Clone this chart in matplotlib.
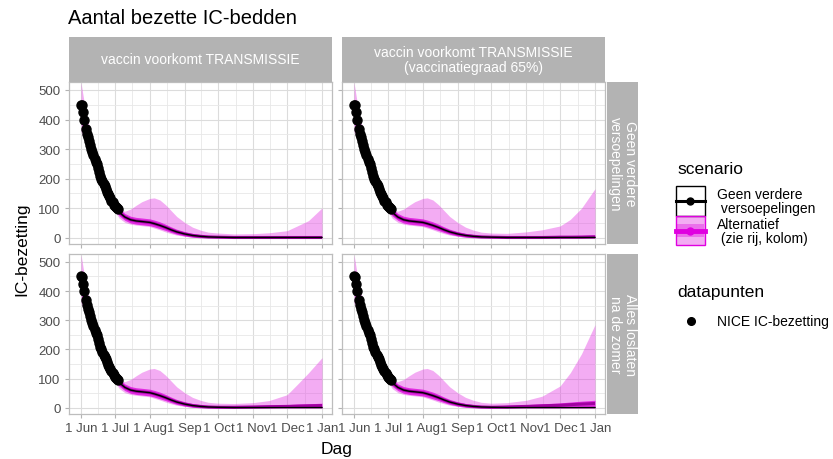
import numpy as np
import matplotlib
matplotlib.use("Agg")
import matplotlib.pyplot as plt
import matplotlib.dates as mdates
from matplotlib.patches import Rectangle
from matplotlib.ticker import FixedLocator, FuncFormatter

plt.rcParams['font.family'] = ['Liberation Sans', 'DejaVu Sans']

# ---------------- data ----------------
model_dates = np.array(['2021-06-01', '2021-06-05', '2021-06-10', '2021-06-15', '2021-06-20', '2021-06-25',
                        '2021-07-01', '2021-07-05', '2021-07-10', '2021-07-15', '2021-07-20', '2021-07-25',
                        '2021-08-01', '2021-08-05', '2021-08-10', '2021-08-15', '2021-08-20', '2021-08-25',
                        '2021-09-01', '2021-09-08', '2021-09-15', '2021-09-22', '2021-10-01', '2021-10-15',
                        '2021-11-01', '2021-11-15', '2021-12-01', '2021-12-10', '2021-12-20', '2022-01-01'],
                       dtype='datetime64[D]')

baseline_median = [430, 365, 300, 245, 195, 155, 108, 86, 70, 61, 57, 55, 52, 48, 42, 35, 27, 20,
                   13, 8, 5, 3, 2, 1, 1, 1, 1, 1, 1, 1]

# first 23 values common to all panels, tails (Oct15..Jan1) per panel
alt_median_head = [430, 365, 300, 245, 195, 155, 108, 86, 70, 61, 57, 55, 52, 48, 42, 35, 27, 20,
                   13, 8, 5, 3, 2]
alt_median_tail_tl = [1, 1, 1, 1, 1, 1, 1]
alt_median_tail_tr = [1, 1, 1, 2, 2, 2, 3]
alt_median_tail_bl = [2, 3, 4, 5, 6, 7, 8]
alt_median_tail_br = [3, 5, 7, 9, 11, 13, 15]

inner_hi_head = [470, 400, 330, 270, 215, 172, 122, 99, 82, 73, 69, 67, 64, 60, 54, 46, 37, 29,
                 21, 15, 11, 8, 6]
inner_hi_tail_tl = [6, 6, 6, 6, 6, 6, 6]
inner_hi_tail_tr = [6, 6, 7, 8, 8, 9, 10]
inner_hi_tail_bl = [7, 8, 10, 11, 13, 14, 16]
inner_hi_tail_br = [9, 11, 14, 17, 20, 23, 26]
inner_lo = [395, 335, 273, 222, 176, 139, 95, 74, 59, 50, 46, 44, 41, 37, 31, 25, 18, 12,
            6, 2, 0, 0, 0, 0, 0, 0, 0, 0, 0, 0]

outer_hi_head = [525, 430, 350, 282, 218, 168, 112, 94, 90, 97, 110, 122, 133, 135, 128, 112, 92, 72,
                 52, 36, 26, 19, 16]
outer_hi_tail_tl = [13, 14, 17, 24, 40, 58, 101]
outer_hi_tail_tr = [15, 20, 27, 40, 62, 100, 166]
outer_hi_tail_bl = [15, 18, 25, 45, 80, 120, 172]
outer_hi_tail_br = [18, 26, 40, 75, 120, 185, 285]
outer_lo = [360, 318, 262, 212, 168, 128, 88, 66, 52, 46, 43, 41, 38, 33, 27, 20, 14, 9,
            5, 2, 1, 0, 0, 0, 0, 0, 0, 0, 0, 0]

obs_dates = np.arange('2021-06-01', '2021-07-05', dtype='datetime64[D]')
obs_values = [450, 448, 425, 400, 368, 352, 340, 328, 314, 302,
              290, 280, 268, 258, 248, 236, 222, 210, 200, 192,
              182, 174, 166, 156, 148, 140, 134, 126, 120, 112,
              107, 103, 100, 96]

col_labels = ['vaccin voorkomt TRANSMISSIE', 'vaccin voorkomt TRANSMISSIE\n(vaccinatiegraad 65%)']
row_labels = ['Geen verdere\nversoepelingen', 'Alles loslaten\nna de zomer']
month_ticks = np.array(['2021-06-01', '2021-07-01', '2021-08-01', '2021-09-01', '2021-10-01',
                        '2021-11-01', '2021-12-01', '2022-01-01'], dtype='datetime64[D]')
y_ticks = [0, 100, 200, 300, 400, 500]
legend_scenario_labels = ['Geen verdere\n versoepelingen', 'Alternatief\n (zie rij, kolom)']
legend_points_label = 'NICE IC-bezetting'

tails = {
    (0, 0): (alt_median_tail_tl, inner_hi_tail_tl, outer_hi_tail_tl),
    (0, 1): (alt_median_tail_tr, inner_hi_tail_tr, outer_hi_tail_tr),
    (1, 0): (alt_median_tail_bl, inner_hi_tail_bl, outer_hi_tail_bl),
    (1, 1): (alt_median_tail_br, inner_hi_tail_br, outer_hi_tail_br),
}

# ---------------- styling ----------------
OUTER = '#E020E0'
OUTER_ALPHA = 0.37
INNER = '#DD00DD'
INNER_ALPHA = 0.75
ALTLINE = '#A000A0'
GRID_MAJ = '#DCDCDC'
GRID_MIN = '#E8E8E8'
BORDER = '#BDBDBD'
STRIP = '#B3B3B3'
TICKTXT = '#4D4D4D'

W, H = 833, 460
fig = plt.figure(figsize=(W / 100, H / 100), dpi=100)


def fx(p):
    return p / W


def fy(p):
    return 1 - p / H


cols = [(69, 332), (342, 605)]
rows = [(83, 245), (255, 415)]

x0 = mdates.date2num(np.datetime64('2021-06-01'))
x1 = mdates.date2num(np.datetime64('2022-01-01'))
dpp = (x1 - x0) / 241.0
xlim = (x0 - 12 * dpp, x1 + 10 * dpp)
ylim = (-21, 527)

xnum = mdates.date2num(model_dates)
obs_num = mdates.date2num(obs_dates)
tick_num = mdates.date2num(month_ticks)
minor_num = (tick_num[:-1] + tick_num[1:]) / 2


def fmt(x, pos):
    d = mdates.num2date(x)
    return f"{d.day} {d.strftime('%b')}"


for r, (ya, yb) in enumerate(rows):
    for c, (xa, xb) in enumerate(cols):
        ax = fig.add_axes([fx(xa), fy(yb), fx(xb) - fx(xa), (yb - ya) / H])
        med_t, ih_t, oh_t = tails[(r, c)]
        alt_med = alt_median_head + med_t
        inner_hi = inner_hi_head + ih_t
        outer_hi = outer_hi_head + oh_t
        ax.fill_between(xnum, outer_lo, outer_hi, color=OUTER, alpha=OUTER_ALPHA, lw=0, zorder=2)
        ax.fill_between(xnum, inner_lo, inner_hi, color=INNER, alpha=INNER_ALPHA, lw=0, zorder=3)
        ax.plot(xnum, alt_med, color=ALTLINE, lw=2.2, zorder=4, solid_capstyle='butt')
        ax.plot(xnum, baseline_median, color='black', lw=1.0, zorder=5)
        ax.plot(obs_num, obs_values, 'o', color='black', ms=6.5, zorder=6)

        ax.set_xlim(xlim)
        ax.set_ylim(ylim)
        ax.xaxis.set_major_locator(FixedLocator(tick_num))
        ax.xaxis.set_minor_locator(FixedLocator(minor_num))
        ax.xaxis.set_major_formatter(FuncFormatter(fmt))
        ax.yaxis.set_major_locator(FixedLocator(y_ticks))
        ax.yaxis.set_minor_locator(FixedLocator([50, 150, 250, 350, 450]))
        ax.grid(True, which='major', color=GRID_MAJ, lw=0.8, zorder=0)
        ax.grid(True, which='minor', color=GRID_MIN, lw=0.6, zorder=0)
        ax.set_axisbelow(True)
        for s in ax.spines.values():
            s.set_color(BORDER)
            s.set_linewidth(0.9)
        ax.tick_params(which='major', length=3, color='#B3B3B3', labelcolor=TICKTXT,
                       labelsize=9.5, pad=3)
        ax.tick_params(which='minor', length=0)
        if r == 0:
            ax.tick_params(axis='x', labelbottom=False)
        if c == 1:
            ax.tick_params(axis='y', labelleft=False)

        # top strips
        if r == 0:
            sax = fig.add_axes([fx(xa), fy(83), fx(xb) - fx(xa), (83 - 38) / H])
            sax.set_facecolor(STRIP)
            sax.set_xticks([]); sax.set_yticks([])
            for s in sax.spines.values():
                s.set_visible(False)
            sax.text(0.5, 0.5, col_labels[c], color='white', ha='center', va='center',
                     fontsize=10, transform=sax.transAxes, linespacing=1.1)
        # right strips
        if c == 1:
            rax = fig.add_axes([fx(607), fy(yb), fx(638) - fx(607), (yb - ya) / H])
            rax.set_facecolor(STRIP)
            rax.set_xticks([]); rax.set_yticks([])
            for s in rax.spines.values():
                s.set_visible(False)
            rax.text(0.5, 0.5, row_labels[r], color='white', ha='center', va='center',
                     fontsize=10, rotation=-90, transform=rax.transAxes, linespacing=1.1)

fig.text(fx(68), fy(18), 'Aantal bezette IC-bedden', fontsize=14.5, ha='left', va='center')
fig.text(fx(22), fy(249), 'IC-bezetting', fontsize=12.5, rotation=90, ha='center', va='center')
fig.text(fx(337), fy(450), 'Dag', fontsize=12.5, ha='center', va='center')

# ---------------- legends (drawn in a pixel-space overlay) ----------------
lax = fig.add_axes([0, 0, 1, 1], facecolor='none')
lax.set_xlim(0, W)
lax.set_ylim(H, 0)
lax.axis('off')

lax.text(677, 170, 'scenario', fontsize=12.5, ha='left', va='center')
# key 1: baseline
lax.add_patch(Rectangle((676, 187), 29, 30, facecolor='white', edgecolor='black', lw=1.0))
lax.plot([676, 705], [202, 202], color='black', lw=2.2)
lax.plot([690.5], [202], 'o', color='black', ms=5)
# key 2: alternative
lax.add_patch(Rectangle((676, 217), 29, 29, facecolor=OUTER, alpha=OUTER_ALPHA, lw=0))
lax.add_patch(Rectangle((676, 217), 29, 29, facecolor='none', edgecolor='#E000E0', lw=1.0))
lax.add_patch(Rectangle((677, 225), 27, 13, facecolor=INNER, alpha=0.35, lw=0))
lax.plot([676, 705], [231.5, 231.5], color='#E000E0', lw=3.5)
lax.plot([690.5], [231.5], 'o', color='#E000E0', ms=5)
lax.text(717, 202, legend_scenario_labels[0], fontsize=10, ha='left', va='center', linespacing=1.05)
lax.text(717, 232, legend_scenario_labels[1], fontsize=10, ha='left', va='center', linespacing=1.05)

lax.text(677, 293, 'datapunten', fontsize=12.5, ha='left', va='center')
lax.plot([691], [322], 'o', color='black', ms=5.5)
lax.text(717, 322, legend_points_label, fontsize=10, ha='left', va='center')

fig.savefig('out.png', dpi=100)
